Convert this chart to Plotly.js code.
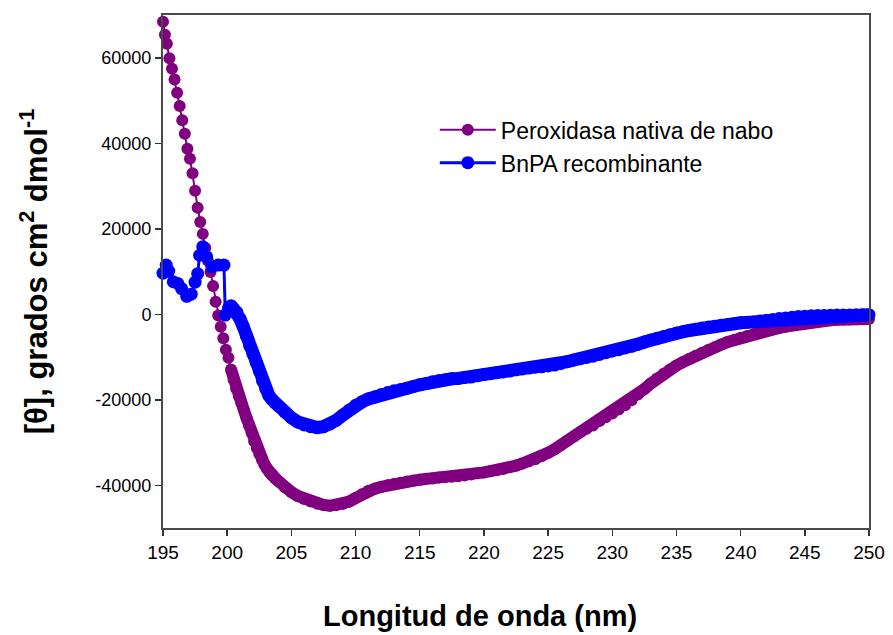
<!DOCTYPE html>
<html>
<head>
<meta charset="utf-8">
<script src="https://cdn.plot.ly/plotly-3.0.1.min.js"></script>
<style>
  html, body { margin: 0; padding: 0; background: #ffffff; }
  #chart { width: 893px; height: 635px; }
</style>
</head>
<body>
<div id="chart"></div>
<script>
// ---- Data ----
var seriesNames = ["Peroxidasa nativa de nabo", "BnPA recombinante"];

var xTicks = [195, 200, 205, 210, 215, 220, 225, 230, 235, 240, 245, 250];
var yTicks = [-40000, -20000, 0, 20000, 40000, 60000];

var xTitle = "Longitud de onda (nm)";
var yTitle = "[θ], grados cm<sup>2</sup> dmol<sup>-1</sup>";

// wavelengths (nm) – tail shared by both spectra
var tailWavelength = [204.5,205,205.5,206,206.5,207,207.5,208,208.5,209,209.5,210,210.5,211,211.5,212,212.5,213,213.5,214,214.5,215,215.5,216,216.5,217,217.5,218,218.5,219,219.5,220,220.5,221,221.5,222,222.5,223,223.5,224,224.5,225,225.5,226,226.5,227,227.5,228,228.5,229,229.5,230,230.5,231,231.5,232,232.5,233,233.5,234,234.5,235,235.5,236,236.5,237,237.5,238,238.5,239,239.5,240,240.5,241,241.5,242,242.5,243,243.5,244,244.5,245,245.5,246,246.5,247,247.5,248,248.5,249,249.5,250];

var peroxidaseHeadWavelength = [195.0,195.15,195.3,195.5,195.7,195.9,196.1,196.3,196.5,196.7,196.9,197.1,197.3,197.5,197.7,197.9,198.1,198.3,198.5,198.7,198.9,199.1,199.3,199.5,199.7,199.9,200.1,200.3,200.5,200.7,200.9,201.1,201.3,201.5,201.7,201.9,202.1,202.3,202.5,202.7,202.9,203.1,203.3,203.5,203.7,203.9,204.1];
var peroxidaseHeadTheta = [68400,65400,63300,59900,57400,54900,51800,48700,45400,42200,38700,36400,33000,28900,24900,21600,18800,15500,12500,9900,6600,2900,-300,-2900,-5600,-8300,-10200,-12900,-15300,-17400,-19100,-20700,-22400,-24200,-26000,-27800,-29700,-31300,-32700,-34000,-35100,-36100,-37000,-37700,-38300,-38800,-39300];
var peroxidaseTailTheta = [-40500,-41600,-42500,-43200,-43800,-44300,-44600,-44800,-44700,-44400,-43800,-43000,-42100,-41300,-40800,-40400,-40000,-39700,-39400,-39100,-38900,-38700,-38500,-38400,-38200,-38100,-38000,-37900,-37700,-37500,-37200,-37000,-36700,-36500,-36200,-35800,-35400,-34900,-34400,-33900,-33200,-32400,-31600,-30600,-29600,-28600,-27600,-26800,-26000,-25000,-24100,-23200,-22300,-21300,-20100,-18800,-17500,-16200,-15000,-13900,-12900,-12000,-11200,-10400,-9700,-9000,-8300,-7700,-7100,-6500,-6000,-5500,-5100,-4700,-4300,-3900,-3500,-3200,-2900,-2600,-2300,-2100,-1900,-1700,-1500,-1400,-1300,-1250,-1200,-1150,-1100,-1100];

var bnpaHeadWavelength = [195.0,195.25,195.45,195.8,196.15,196.45,196.85,197.2,197.5,197.7,197.85,198.1,198.4,198.8,199.3,199.75,199.85,200.1,200.3,200.5,200.75,201,201.25,201.5,201.75,202,202.25,202.5,202.75,203,203.25,203.5,203.75,204];
var bnpaHeadTheta = [9600,11500,10100,7600,7200,6000,4200,4700,7500,9500,13800,15800,13400,11100,11500,11500,-200,1500,2000,1300,500,-1100,-2900,-5100,-7400,-9300,-11200,-13300,-15600,-17400,-19000,-20000,-20800,-21500];
var bnpaTailTheta = [-22900,-24200,-25200,-25900,-26300,-26500,-26300,-25700,-24800,-23600,-22400,-21300,-20500,-19800,-19300,-18800,-18300,-17900,-17600,-17300,-16900,-16500,-16200,-15800,-15500,-15300,-15100,-15000,-14800,-14700,-14400,-14100,-13900,-13700,-13500,-13300,-13000,-12800,-12600,-12400,-12300,-12100,-11900,-11500,-11100,-10700,-10400,-10100,-9800,-9400,-9000,-8600,-8300,-7900,-7500,-7000,-6500,-6000,-5600,-5200,-4800,-4400,-4100,-3800,-3500,-3200,-3000,-2800,-2600,-2400,-2200,-2000,-1900,-1800,-1600,-1400,-1200,-1000,-850,-700,-550,-450,-380,-320,-270,-230,-200,-170,-150,-130,-110,-100];

// ---- Build traces ----
var FONT = "Liberation Sans, Arial, Helvetica, sans-serif";
var PURPLE = "#800080", BLUE = "#0000FF";

var peroxidaseX = peroxidaseHeadWavelength.concat(tailWavelength);
var peroxidaseY = peroxidaseHeadTheta.concat(peroxidaseTailTheta);
var bnpaX = bnpaHeadWavelength.concat(tailWavelength);
var bnpaY = bnpaHeadTheta.concat(bnpaTailTheta);

// dense measurement band (the densely spaced points merge into a thick stroke)
var peroxidaseBand = {
  x: peroxidaseX.slice(27), y: peroxidaseY.slice(27),
  type: "scatter", mode: "lines", showlegend: false, hoverinfo: "skip",
  line: { color: PURPLE, width: 12 }, cliponaxis: false
};
var peroxidase = {
  x: peroxidaseX, y: peroxidaseY,
  name: seriesNames[0], type: "scatter", mode: "lines+markers",
  line: { color: PURPLE, width: 2 },
  marker: { color: PURPLE, size: 12, symbol: "circle" },
  cliponaxis: false
};
var bnpaBand = {
  x: bnpaX.slice(18), y: bnpaY.slice(18),
  type: "scatter", mode: "lines", showlegend: false, hoverinfo: "skip",
  line: { color: BLUE, width: 13 }, cliponaxis: false
};
var bnpa = {
  x: bnpaX, y: bnpaY,
  name: seriesNames[1], type: "scatter", mode: "lines+markers",
  line: { color: BLUE, width: 3 },
  marker: { color: BLUE, size: 13, symbol: "circle" },
  cliponaxis: false
};

var layout = {
  width: 893,
  height: 635,
  margin: { l: 163, r: 24, t: 15, b: 107 },
  paper_bgcolor: "#ffffff",
  plot_bgcolor: "#ffffff",
  font: { family: FONT, color: "#000000", size: 18 },
  showlegend: true,
  legend: {
    x: 0.385, y: 0.818, xanchor: "left", yanchor: "top",
    bgcolor: "rgba(0,0,0,0)",
    font: { family: FONT, size: 23, color: "#000000" },
    itemwidth: 56,
    tracegroupgap: 0
  },
  xaxis: {
    range: [195, 250],
    tickvals: xTicks,
    ticktext: xTicks.map(String),
    ticks: "outside",
    ticklen: 6,
    tickwidth: 1.5,
    tickcolor: "#333333",
    showline: true,
    linecolor: "#4a4a4a",
    linewidth: 2,
    mirror: true,
    showgrid: false,
    zeroline: false,
    tickfont: { family: FONT, size: 19, color: "#000000" }
  },
  yaxis: {
    range: [-50000, 70000],
    tickvals: yTicks,
    ticktext: yTicks.map(String),
    ticks: "outside",
    ticklen: 6,
    tickwidth: 1.5,
    tickcolor: "#333333",
    showline: true,
    linecolor: "#4a4a4a",
    linewidth: 2,
    mirror: true,
    showgrid: false,
    zeroline: false,
    tickfont: { family: FONT, size: 18, color: "#000000" },
    title: { text: "<b>" + yTitle + "</b>", font: { family: FONT, size: 31, color: "#000000" }, standoff: 38 }
  },
  annotations: [{
    text: "<b>" + xTitle + "</b>",
    xref: "paper", yref: "paper",
    x: 0.449, y: -0.172, xanchor: "center", yanchor: "middle",
    showarrow: false,
    font: { family: FONT, size: 29, color: "#000000" }
  }]
};

Plotly.newPlot("chart", [peroxidaseBand, peroxidase, bnpaBand, bnpa], layout, { displayModeBar: false, staticPlot: true });
</script>
</body>
</html>
